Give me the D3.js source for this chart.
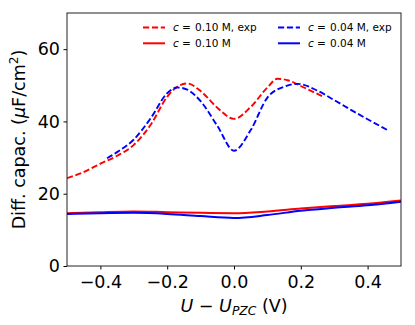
<!DOCTYPE html>
<html>
<head>
<meta charset="utf-8">
<script src="https://cdn.jsdelivr.net/npm/d3@7"></script>
<style>
  body { margin: 0; background: #fff; }
  svg text { font-family: "DejaVu Sans", sans-serif; }
</style>
</head>
<body>
<div id="chart"></div>
<script>
// ---------------- data ----------------
var expHighU = [-0.5, -0.45, -0.4, -0.35, -0.3, -0.25, -0.2, -0.17, -0.14, -0.1, -0.05, 0, 0.05, 0.1, 0.13, 0.16, 0.2, 0.25, 0.27];
var expHighC = [24.3, 26.0, 28.3, 30.5, 33.5, 39.0, 46.8, 49.6, 50.5, 48.4, 43.8, 40.7, 44.0, 49.4, 51.8, 51.4, 49.8, 47.6, 46.7];

var expLowU = [-0.38, -0.35, -0.3, -0.25, -0.2, -0.17, -0.14, -0.1, -0.05, 0, 0.05, 0.1, 0.15, 0.19, 0.25, 0.3, 0.35, 0.4, 0.46];
var expLowC = [29.8, 31.5, 35.0, 40.8, 47.8, 49.4, 48.8, 45.6, 38.8, 31.9, 37.6, 46.6, 49.6, 50.4, 48.5, 45.9, 43.2, 40.6, 37.6];

var modU = [-0.5, -0.4, -0.3, -0.2, -0.1, 0, 0.1, 0.2, 0.3, 0.4, 0.5];
var modHighC = [14.6, 14.9, 15.1, 14.9, 14.7, 14.6, 15.1, 15.9, 16.6, 17.2, 18.1];
var modLowC = [14.4, 14.6, 14.7, 14.4, 13.8, 13.3, 14.1, 15.3, 16.1, 16.8, 17.8];

var xTicks = [-0.4, -0.2, 0.0, 0.2, 0.4];
var yTicks = [0, 20, 40, 60];

var series = [
  { name: "0.10 M, exp", u: expHighU, c: expHighC, color: "#ff0000", dashed: true },
  { name: "0.10 M", u: modU, c: modHighC, color: "#ff0000", dashed: false },
  { name: "0.04 M, exp", u: expLowU, c: expLowC, color: "#0000ff", dashed: true },
  { name: "0.04 M", u: modU, c: modLowC, color: "#0000ff", dashed: false }
];

// ---------------- set-up ----------------
var width = 415, height = 325;
var margin = { left: 67, right: 14, top: 13, bottom: 59 };
var fs = 17.5;
var dash = "6.2,2.7";

var svg = d3.select("#chart").append("svg")
    .attr("width", width)
    .attr("height", height);

var x = d3.scaleLinear().domain([-0.5, 0.5]).range([margin.left, width - margin.right]);
var y = d3.scaleLinear().domain([0, 70]).range([height - margin.bottom, margin.top]);

var plot = svg.append("g");
plot.append("clipPath").attr("id", "clip")
  .append("rect")
    .attr("x", margin.left).attr("y", margin.top)
    .attr("width", width - margin.left - margin.right)
    .attr("height", height - margin.top - margin.bottom);

// ---------------- lines ----------------
var line = d3.line()
    .x(function(d) { return x(d[0]); })
    .y(function(d) { return y(d[1]); })
    .curve(d3.curveMonotoneX);

series.forEach(function(s) {
  var pts = s.u.map(function(u, i) { return [u, s.c[i]]; });
  plot.append("path")
    .attr("clip-path", "url(#clip)")
    .attr("d", line(pts))
    .attr("fill", "none")
    .attr("stroke", s.color)
    .attr("stroke-width", s.dashed ? 1.9 : 2)
    .attr("stroke-dasharray", s.dashed ? dash : null);
});

// ---------------- axes ----------------
var xAxis = d3.axisBottom(x).tickValues(xTicks).tickSize(3.5).tickPadding(3.5)
    .tickFormat(function(d) { return d3.format(".1f")(d).replace("-", "\u2212"); });
var yAxis = d3.axisLeft(y).tickValues(yTicks).tickSize(3.5).tickPadding(3.5);

var gx = svg.append("g")
    .attr("transform", "translate(0," + (height - margin.bottom) + ")")
    .call(xAxis);
var gy = svg.append("g")
    .attr("transform", "translate(" + margin.left + ",0)")
    .call(yAxis);

[gx, gy].forEach(function(g) {
  g.select(".domain").remove();
  g.selectAll("text").attr("font-size", fs).attr("fill", "#000")
    .attr("font-family", "DejaVu Sans, sans-serif");
  g.selectAll("line").attr("stroke", "#000");
});
gx.selectAll("text").attr("dy", "0.88em");

// frame
svg.append("rect")
    .attr("x", margin.left).attr("y", margin.top)
    .attr("width", width - margin.left - margin.right)
    .attr("height", height - margin.top - margin.bottom)
    .attr("fill", "none").attr("stroke", "#222").attr("stroke-width", 1);

// axis labels
var xl = svg.append("text")
    .attr("x", (margin.left + width - margin.right) / 2)
    .attr("y", 312)
    .attr("text-anchor", "middle")
    .attr("font-size", fs);
xl.append("tspan").attr("font-style", "italic").text("U");
xl.append("tspan").text(" \u2212 ");
xl.append("tspan").attr("font-style", "italic").text("U");
xl.append("tspan").attr("font-style", "italic").attr("font-size", 12.3).attr("dy", 3).text("PZC");
xl.append("tspan").attr("dy", -3).text(" (V)");

var yl = svg.append("text")
    .attr("transform", "translate(25," + ((margin.top + height - margin.bottom) / 2) + ") rotate(-90)")
    .attr("text-anchor", "middle")
    .attr("font-size", fs);
yl.append("tspan").text("Diff. capac. (");
yl.append("tspan").attr("font-style", "italic").text("\u03bc");
yl.append("tspan").text("F/cm");
yl.append("tspan").attr("font-size", 12.3).attr("dy", -7).text("2");
yl.append("tspan").attr("dy", 7).text(")");

// ---------------- legend ----------------
var legendPos = [
  { sx: 143, ty: 27.5 }, { sx: 143, ty: 43.3 },
  { sx: 278, ty: 27.5 }, { sx: 278, ty: 43.3 }
];
series.forEach(function(s, i) {
  var p = legendPos[i];
  var g = svg.append("g");
  g.append("line")
    .attr("x1", p.sx).attr("x2", p.sx + 22)
    .attr("y1", p.ty).attr("y2", p.ty)
    .attr("stroke", s.color)
    .attr("stroke-width", s.dashed ? 1.9 : 2)
    .attr("stroke-dasharray", s.dashed ? dash : null);
  var t = g.append("text")
    .attr("y", p.ty + 3.8)
    .attr("font-size", 10.5);
  t.append("tspan").attr("x", p.sx + 30).attr("font-style", "italic").text("c");
  t.append("tspan").text(" =");
  t.append("tspan").attr("x", p.sx + 52).text(s.name);
});
</script>
</body>
</html>
